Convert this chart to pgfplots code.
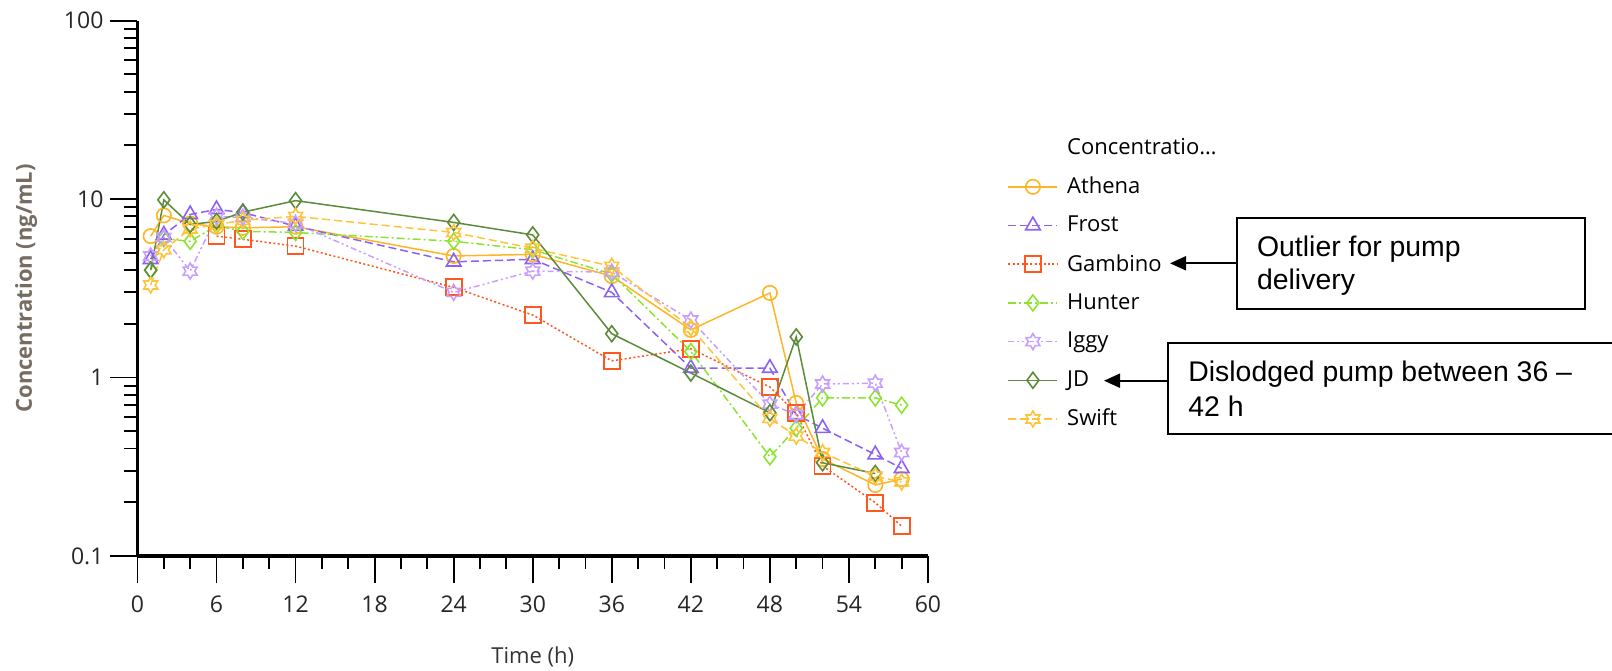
\documentclass[border=0pt]{standalone}
\usepackage{fontspec}
\setmainfont{Open Sans}
\newfontfamily\arialfont{Liberation Sans}
\usepackage{pgfplots}
\pgfplotsset{compat=1.18}
\usetikzlibrary{arrows.meta}

\definecolor{cAthena}{RGB}{255,182,38}
\definecolor{cFrost}{RGB}{140,98,240}
\definecolor{cGambino}{RGB}{255,88,30}
\definecolor{cHunter}{RGB}{140,228,50}
\definecolor{cIggy}{RGB}{200,158,255}
\definecolor{cJD}{RGB}{92,140,58}
\definecolor{cSwift}{RGB}{255,196,60}
\definecolor{ylabgray}{RGB}{118,108,98}

\pgfdeclareplotmark{sixstar}{%
  \pgfpathmoveto{\pgfpointpolar{90}{\pgfplotmarksize}}%
  \pgfpathlineto{\pgfpointpolar{120}{0.58\pgfplotmarksize}}%
  \pgfpathlineto{\pgfpointpolar{150}{\pgfplotmarksize}}%
  \pgfpathlineto{\pgfpointpolar{180}{0.58\pgfplotmarksize}}%
  \pgfpathlineto{\pgfpointpolar{210}{\pgfplotmarksize}}%
  \pgfpathlineto{\pgfpointpolar{240}{0.58\pgfplotmarksize}}%
  \pgfpathlineto{\pgfpointpolar{270}{\pgfplotmarksize}}%
  \pgfpathlineto{\pgfpointpolar{300}{0.58\pgfplotmarksize}}%
  \pgfpathlineto{\pgfpointpolar{330}{\pgfplotmarksize}}%
  \pgfpathlineto{\pgfpointpolar{0}{0.58\pgfplotmarksize}}%
  \pgfpathlineto{\pgfpointpolar{30}{\pgfplotmarksize}}%
  \pgfpathlineto{\pgfpointpolar{60}{0.58\pgfplotmarksize}}%
  \pgfpathclose
  \pgfusepathqstroke
}

\begin{document}
\begin{tikzpicture}
\path[use as bounding box] (-68.75pt,-57pt) rectangle (737.25pt,278pt);
\begin{axis}[
  scale only axis,
  width=395.25pt, height=267.7pt,
  xmin=0, xmax=60,
  ymode=log, ymin=0.1, ymax=100,
  axis x line*=bottom, axis y line*=left,
  axis line style={line width=1.6pt, black},
  tick align=outside,
  major tick length=13.5pt, minor tick length=6.5pt,
  every tick/.style={line width=0.9pt, black},
  xtick={0,6,...,60}, minor x tick num=2,
  ytick={0.1,1,10,100}, yticklabels={0.1,1,10,100},
  minor ytick={0.2,0.3,0.4,0.5,0.6,0.7,0.8,0.9,2,3,4,5,6,7,8,9,20,30,40,50,60,70,80,90},
  tick label style={font=\fontsize{11.5}{13}\selectfont, text=black!85},
  xticklabel style={yshift=-3pt},
  /pgf/number format/assume math mode=true,
  xlabel={Time (h)},
  ylabel={\bfseries Concentration (ng/mL)},
  xlabel style={at={(axis description cs:0.5,-0.188)}, anchor=center, font=\fontsize{11}{13}\selectfont, text=black!80},
  ylabel style={at={(axis description cs:-0.141,0.5)}, anchor=center, rotate=0, font=\fontsize{11}{13}\selectfont, text=ylabgray},
  every axis plot/.append style={line width=0.75pt},
  legend cell align=left,
  legend style={at={(axis description cs:1.1008,0.798)}, anchor=north west,
    draw=none, fill=none, inner sep=0pt, outer sep=0pt,
    row sep=0pt, column sep=4.5pt,
    font=\fontsize{11}{13}\selectfont,
    nodes={inner sep=0pt, minimum height=19.35pt}},
  legend image code/.code={%
    \draw[mark repeat=2, mark phase=2] plot coordinates {(0pt,0pt) (12.25pt,0pt) (24.5pt,0pt)};},
]
\addlegendimage{empty legend}
\addlegendentry{Concentratio…}

\addplot[color=cAthena, solid, mark=o, mark size=3.6pt, mark options={solid, line width=0.8pt}]
  coordinates {(1,6.2)(2,8.1)(4,7.3)(6,7.0)(8,6.9)(12,7.0)(24,4.8)(30,4.9)(36,3.7)(42,1.85)(48,2.98)(50,0.72)(52,0.35)(56,0.25)(58,0.27)};
\addlegendentry{Athena}

\addplot[color=cFrost, dash pattern=on 4pt off 2pt, mark=triangle, mark size=4.2pt, mark options={solid, line width=0.8pt}]
  coordinates {(1,4.6)(2,6.3)(4,8.2)(6,8.75)(8,8.4)(12,7.05)(24,4.45)(30,4.6)(36,3.0)(42,1.13)(48,1.13)(50,0.62)(52,0.52)(56,0.37)(58,0.31)};
\addlegendentry{Frost}

\addplot[color=cGambino, dash pattern=on 1pt off 1.2pt, mark=square, mark size=4pt, mark options={solid, line width=0.9pt}]
  coordinates {(6,6.2)(8,5.95)(12,5.45)(24,3.2)(30,2.24)(36,1.24)(42,1.45)(48,0.885)(50,0.63)(52,0.32)(56,0.199)(58,0.147)};
\addlegendentry{Gambino}

\addplot[color=cHunter, dash pattern=on 4pt off 1.5pt on 1pt off 1.5pt, mark=diamond, mark size=4pt, mark options={solid, line width=0.8pt}]
  coordinates {(1,4.0)(2,6.0)(4,5.8)(6,7.1)(8,6.6)(12,6.5)(24,5.8)(30,5.2)(36,3.8)(42,1.4)(48,0.36)(50,0.52)(52,0.77)(56,0.77)(58,0.70)};
\addlegendentry{Hunter}

\addplot[color=cIggy, dash pattern=on 3pt off 1.5pt on 1pt off 1.5pt on 1pt off 1.5pt, mark=sixstar, mark size=4pt, mark options={solid, line width=0.8pt}]
  coordinates {(1,4.8)(2,6.1)(4,3.95)(6,8.0)(8,7.9)(12,7.3)(24,3.0)(30,3.95)(36,3.9)(42,2.1)(48,0.71)(50,0.62)(52,0.92)(56,0.93)(58,0.38)};
\addlegendentry{Iggy}

\addplot[color=cJD, solid, mark=diamond, mark size=4pt, mark options={solid, line width=0.8pt}]
  coordinates {(1,4.0)(2,9.9)(4,7.2)(6,7.5)(8,8.45)(12,9.8)(24,7.4)(30,6.3)(36,1.76)(42,1.06)(48,0.635)(50,1.69)(52,0.333)(56,0.29)};
\addlegendentry{JD}

\addplot[color=cSwift, dash pattern=on 4pt off 2pt, mark=sixstar, mark size=4pt, mark options={solid, line width=0.8pt}]
  coordinates {(1,3.3)(2,5.2)(4,6.8)(6,7.2)(8,7.6)(12,8.0)(24,6.5)(30,5.3)(36,4.2)(42,1.9)(48,0.59)(50,0.47)(52,0.38)(56,0.28)(58,0.26)};
\addlegendentry{Swift}
\end{axis}

% annotation boxes
\draw[line width=1pt, black] (549.9pt,123.5pt) rectangle (723.75pt,168.85pt);
\node[anchor=base west, inner sep=0pt, font=\arialfont\fontsize{14.2}{17}\selectfont] at (559.6pt,149.65pt) {Outlier for pump};
\node[anchor=base west, inner sep=0pt, font=\arialfont\fontsize{14.2}{17}\selectfont] at (559.6pt,133pt) {delivery};
\draw[line width=1pt, -{Triangle[length=8pt,width=7pt]}] (549.9pt,146.35pt) -- (516.25pt,146.35pt);

\draw[line width=1pt, black] (745pt,61pt) -- (515.4pt,61pt) -- (515.4pt,106.35pt) -- (745pt,106.35pt);
\node[anchor=base west, inner sep=0pt, font=\arialfont\fontsize{14.2}{17}\selectfont] at (525.25pt,87.15pt) {Dislodged pump between 36 –};
\node[anchor=base west, inner sep=0pt, font=\arialfont\fontsize{14.2}{17}\selectfont] at (525.25pt,69.65pt) {42 h};
\draw[line width=1pt, -{Triangle[length=8pt,width=7pt]}] (515.4pt,87.65pt) -- (483.25pt,87.65pt);
\end{tikzpicture}
\end{document}
